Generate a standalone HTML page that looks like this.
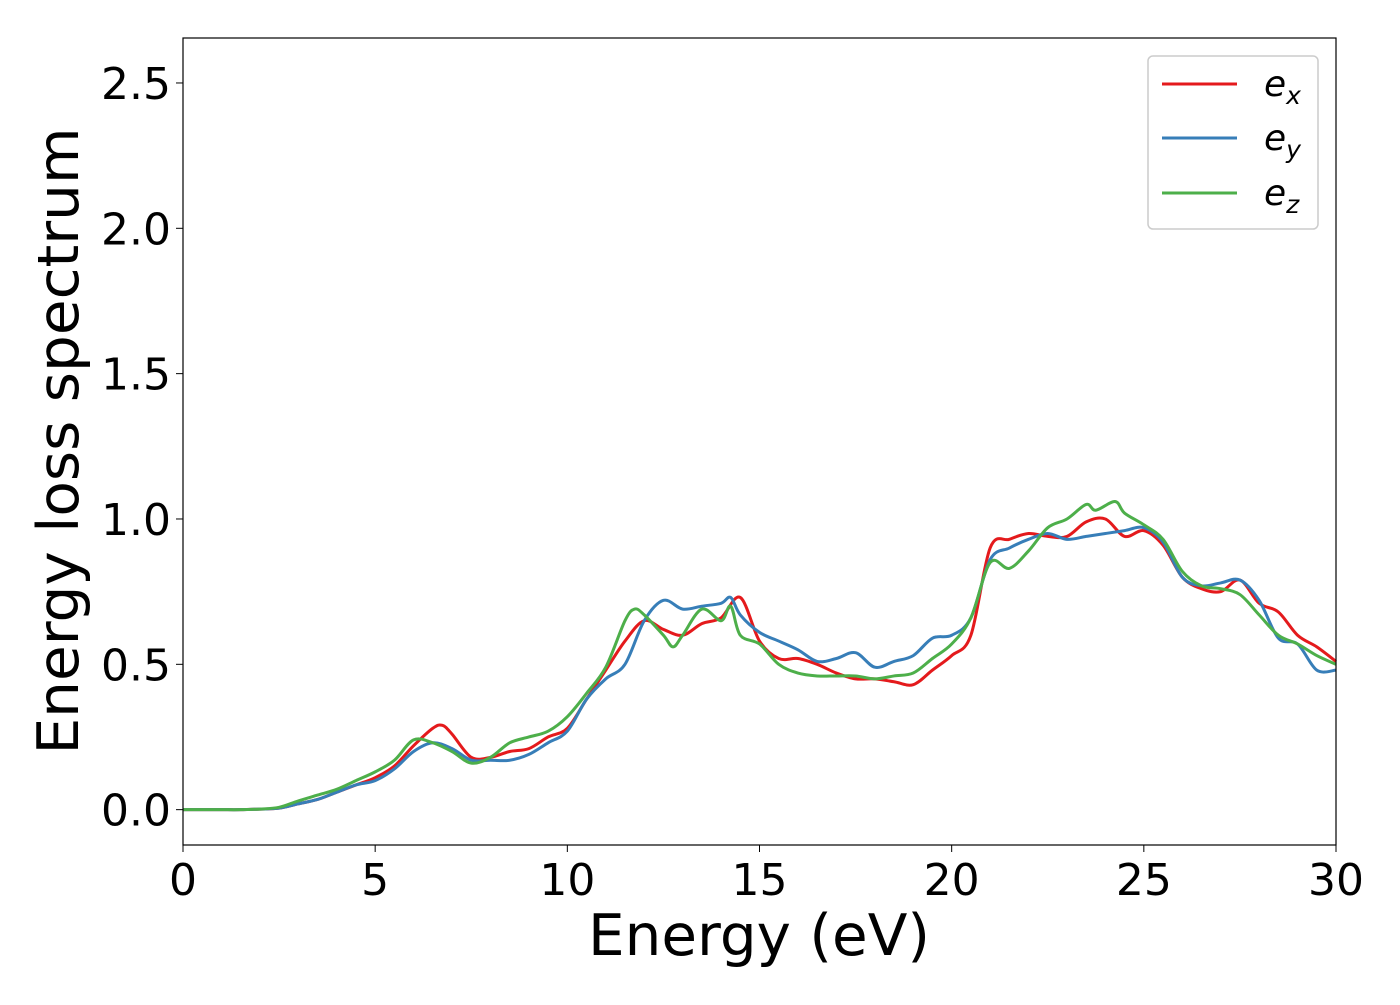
<!DOCTYPE html>
<html><head><meta charset="utf-8"><style>
body{margin:0;background:#fff}
svg text{font-family:"DejaVu Sans","Liberation Sans",sans-serif;fill:#000}
</style></head><body>
<svg id="chart" width="1400" height="1000" xmlns="http://www.w3.org/2000/svg">
<rect x="0" y="0" width="1400" height="1000" fill="#fff"/>
<g id="plot"></g>
<g id="axes"></g>
<text x="759" y="955" font-size="57" text-anchor="middle" textLength="342" lengthAdjust="spacingAndGlyphs">Energy (eV)</text>
<text transform="translate(78,441) rotate(-90)" font-size="57" text-anchor="middle" textLength="627" lengthAdjust="spacingAndGlyphs">Energy loss spectrum</text>
<g>
<rect x="1148" y="56" width="170" height="173" rx="5" fill="#fff" stroke="#ccc" stroke-width="1.5"/>
<line x1="1162" y1="84" x2="1237" y2="84" stroke="#e41a1c" stroke-width="3"/>
<text x="1264" y="96" font-size="36" font-style="italic">e<tspan font-size="25" dy="8">x</tspan></text>
<line x1="1162" y1="138" x2="1237" y2="138" stroke="#377eb8" stroke-width="3"/>
<text x="1264" y="150" font-size="36" font-style="italic">e<tspan font-size="25" dy="8">y</tspan></text>
<line x1="1162" y1="193" x2="1237" y2="193" stroke="#4daf4a" stroke-width="3"/>
<text x="1264" y="205" font-size="36" font-style="italic">e<tspan font-size="25" dy="8">z</tspan></text>
</g>
</svg>
<script>
const exX=[0,0.5,1,1.5,2,2.5,3,3.5,4,4.5,5,5.5,6,6.5,6.75,7,7.5,8,8.5,9,9.5,10,10.5,11,11.5,12,12.5,13,13.5,14,14.5,15,15.5,16,16.5,17,17.5,18,18.5,19,19.5,20,20.5,21,21.5,22,22.5,23,23.5,24,24.5,25,25.5,26,26.5,27,27.5,28,28.5,29,29.5,30];
const exY=[0,0,0,0,0.002,0.005,0.02,0.035,0.06,0.085,0.11,0.15,0.22,0.28,0.29,0.26,0.18,0.18,0.2,0.21,0.25,0.28,0.38,0.48,0.58,0.65,0.62,0.6,0.64,0.66,0.73,0.58,0.52,0.52,0.5,0.47,0.45,0.45,0.44,0.43,0.48,0.53,0.6,0.9,0.93,0.95,0.94,0.94,0.99,1.0,0.94,0.96,0.91,0.8,0.76,0.75,0.79,0.71,0.68,0.6,0.56,0.51];
const eyX=[0,0.5,1,1.5,2,2.5,3,3.5,4,4.5,5,5.5,6,6.5,7,7.5,8,8.5,9,9.5,10,10.5,11,11.5,12,12.5,13,13.5,14,14.25,14.5,15,15.5,16,16.5,17,17.5,18,18.5,19,19.5,20,20.5,21,21.5,22,22.5,23,23.5,24,24.5,25,25.5,26,26.5,27,27.5,28,28.5,29,29.5,30];
const eyY=[0,0,0,0,0.002,0.005,0.02,0.035,0.06,0.085,0.1,0.14,0.2,0.23,0.21,0.17,0.17,0.17,0.19,0.23,0.27,0.38,0.45,0.5,0.65,0.72,0.69,0.7,0.71,0.73,0.67,0.61,0.58,0.55,0.51,0.52,0.54,0.49,0.51,0.53,0.59,0.6,0.66,0.86,0.9,0.93,0.95,0.93,0.94,0.95,0.96,0.97,0.92,0.8,0.77,0.78,0.79,0.72,0.59,0.57,0.48,0.48];
const ezX=[0,0.5,1,1.5,2,2.5,3,3.5,4,4.5,5,5.5,6,6.5,7,7.5,8,8.5,9,9.5,10,10.5,11,11.5,11.75,12,12.5,12.75,13,13.5,14,14.25,14.5,15,15.5,16,16.5,17,17.5,18,18.5,19,19.5,20,20.5,21,21.5,22,22.5,23,23.5,23.75,24.25,24.5,25,25.5,26,26.5,27,27.5,28,28.5,29,29.5,30];
const ezY=[0,0,0,0,0.002,0.008,0.03,0.05,0.07,0.1,0.13,0.17,0.24,0.23,0.2,0.16,0.18,0.23,0.25,0.27,0.32,0.4,0.49,0.65,0.69,0.67,0.6,0.56,0.6,0.69,0.65,0.7,0.6,0.57,0.5,0.47,0.46,0.46,0.46,0.45,0.46,0.47,0.52,0.57,0.66,0.85,0.83,0.89,0.97,1.0,1.05,1.03,1.06,1.02,0.98,0.93,0.82,0.77,0.76,0.74,0.67,0.6,0.57,0.53,0.5];
const xTicks=[0,5,10,15,20,25,30];
const yTicks=[0,0.5,1,1.5,2,2.5];
const yTickLabels=["0.0","0.5","1.0","1.5","2.0","2.5"];

const L=183,R=1336,T=38,B=845;
const xMin=0,xMax=30,yMin=-0.1216,yMax=2.6547;
const sx=v=>L+(v-xMin)/(xMax-xMin)*(R-L);
const sy=v=>B-(v-yMin)/(yMax-yMin)*(B-T);
const NS="http://www.w3.org/2000/svg";
const plot=document.getElementById('plot'),axes=document.getElementById('axes');
function path(xs,ys){
  const p=xs.map((x,i)=>[sx(x),sy(ys[i])]);
  let d="M"+p[0][0]+","+p[0][1];
  for(let i=0;i<p.length-1;i++){
    const p0=p[i-1]||p[i],p1=p[i],p2=p[i+1],p3=p[i+2]||p2;
    const c1=[p1[0]+(p2[0]-p0[0])/6,p1[1]+(p2[1]-p0[1])/6];
    const c2=[p2[0]-(p3[0]-p1[0])/6,p2[1]-(p3[1]-p1[1])/6];
    d+=` C${c1[0]},${c1[1]} ${c2[0]},${c2[1]} ${p2[0]},${p2[1]}`;
  }
  return d;
}
[[exX,exY,'#e41a1c','series-ex'],[eyX,eyY,'#377eb8','series-ey'],[ezX,ezY,'#4daf4a','series-ez']].forEach(s=>{
  const el=document.createElementNS(NS,'path');
  el.setAttribute('d',path(s[0],s[1]));
  el.setAttribute('fill','none');el.setAttribute('stroke',s[2]);el.setAttribute('stroke-width','3');
  
  
  plot.appendChild(el);
});
const frame=document.createElementNS(NS,'rect');
frame.setAttribute('x',L);frame.setAttribute('y',T);frame.setAttribute('width',R-L);frame.setAttribute('height',B-T);
frame.setAttribute('fill','none');frame.setAttribute('stroke','#000');frame.setAttribute('stroke-width','1.2');


axes.appendChild(frame);
xTicks.forEach(v=>{
  const l=document.createElementNS(NS,'line');
  l.setAttribute('x1',sx(v));l.setAttribute('x2',sx(v));l.setAttribute('y1',B);l.setAttribute('y2',B+7);l.setAttribute('stroke','#000');
  
  
  axes.appendChild(l);
  const t=document.createElementNS(NS,'text');
  t.setAttribute('x',sx(v));t.setAttribute('y',B+50);t.setAttribute('font-size','44');t.setAttribute('text-anchor','middle');
  t.textContent=v;
  
  
  axes.appendChild(t);
});
yTicks.forEach((v,i)=>{
  const l=document.createElementNS(NS,'line');
  l.setAttribute('x1',L-7);l.setAttribute('x2',L);l.setAttribute('y1',sy(v));l.setAttribute('y2',sy(v));l.setAttribute('stroke','#000');
  
  
  axes.appendChild(l);
  const t=document.createElementNS(NS,'text');
  t.setAttribute('x',L-12);t.setAttribute('y',sy(v)+16);t.setAttribute('font-size','44');t.setAttribute('text-anchor','end');
  t.textContent=yTickLabels[i];
  
  
  axes.appendChild(t);
});
</script>
</body></html>
